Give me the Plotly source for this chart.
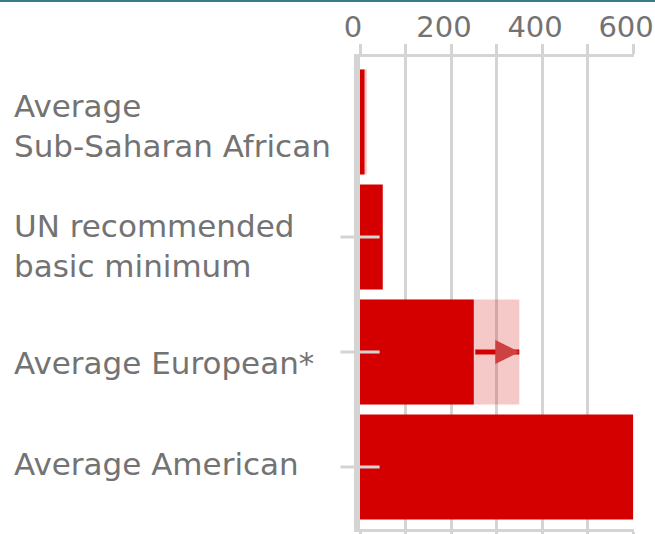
import plotly.graph_objects as go

# ---- data ----
categories = ["Average<br>Sub-Saharan African",
              "UN recommended<br>basic minimum",
              "Average European*",
              "Average American"]
low_values = [10, 50, 250, 600]          # solid red bar
high_values = [15, None, 350, None]      # pale range extension
tick_marked = categories[1:]             # small grey ticks on the zero line
x_tickvals = [0, 100, 200, 300, 400, 500, 600]
x_ticktext = ["0", "", "200", "", "400", "", "600"]
arrow_from = 250
arrow_to = 350
arrow_cat = "Average European*"

# ---- style ----
RED = "#d40000"
PINK = "rgba(212,0,0,0.21)"
GRID = "#d4d4d4"
TEXT = "#737373"
FONT = "DejaVu Sans"
label_yshift = [-4.5, -9.5, -11, 3.5]

W, H = 655, 534
L, R, T, B = 360, 21, 57, 5
plot_h = H - T - B
plot_w = W - L - R

fig = go.Figure()
fig.add_trace(go.Bar(y=categories, x=high_values, orientation="h",
                     marker=dict(color=PINK, line=dict(width=0)), hoverinfo="skip"))
fig.add_trace(go.Bar(y=categories, x=low_values, orientation="h",
                     marker=dict(color=RED, line=dict(width=0)), hoverinfo="skip"))
fig.add_trace(go.Scatter(y=tick_marked, x=[0] * len(tick_marked), mode="markers",
                         marker=dict(symbol="line-ew", size=28,
                                     line=dict(width=3, color=GRID)),
                         cliponaxis=False, hoverinfo="skip"))

# arrow in the European bar
fig.add_annotation(x=arrow_to, y=arrow_cat, ax=arrow_from, ay=arrow_cat,
                   xref="x", yref="y", axref="x", ayref="y", text="",
                   showarrow=True, arrowhead=0, arrowwidth=5, arrowcolor=RED,
                   standoff=0)
fig.add_annotation(x=arrow_to, y=arrow_cat, ax=arrow_to - 30, ay=arrow_cat,
                   xref="x", yref="y", axref="x", ayref="y", text="",
                   showarrow=True, arrowhead=2, arrowwidth=5, arrowsize=0.96,
                   arrowcolor="#cd4141", standoff=0)

# left-aligned category labels
label_x = (12 - L) / plot_w
for cat, dy in zip(categories, label_yshift):
    fig.add_annotation(x=label_x, y=cat, xref="paper", yref="y", text=cat,
                       showarrow=False, xanchor="left", yanchor="middle",
                       align="left", yshift=dy,
                       font=dict(family=FONT, size=31, color=TEXT))

# top teal rule
top_y = (H - B - 1) / plot_h
fig.add_shape(type="line", xref="paper", yref="paper", x0=-L / plot_w,
              x1=1 + R / plot_w, y0=top_y, y1=top_y,
              line=dict(color="#3b7a8c", width=2))

fig.update_layout(
    width=W, height=H, margin=dict(l=L, r=R, t=T, b=B, pad=0, autoexpand=False),
    paper_bgcolor="white", plot_bgcolor="white",
    barmode="overlay", bargap=0.087, showlegend=False,
    xaxis=dict(side="top", range=[0, 602], tickvals=x_tickvals, ticktext=x_ticktext,
               ticks="outside", ticklen=10, tickwidth=3, tickcolor=GRID,
               showline=True, linewidth=3, linecolor=GRID, mirror="ticks",
               showgrid=True, gridwidth=3, gridcolor=GRID, zeroline=False,
               tickfont=dict(family=FONT, size=29, color=TEXT),
               ticklabelshift=-7, ticklabelstandoff=-5, ticklabeloverflow="allow",
               automargin=False, fixedrange=True),
    yaxis=dict(type="category", categoryorder="array", categoryarray=categories,
               range=[3.539, -0.565], showticklabels=False, ticks="",
               showline=True, linewidth=6, linecolor=GRID, showgrid=False,
               zeroline=False, automargin=False, fixedrange=True),
)

fig.write_html("out.html")
